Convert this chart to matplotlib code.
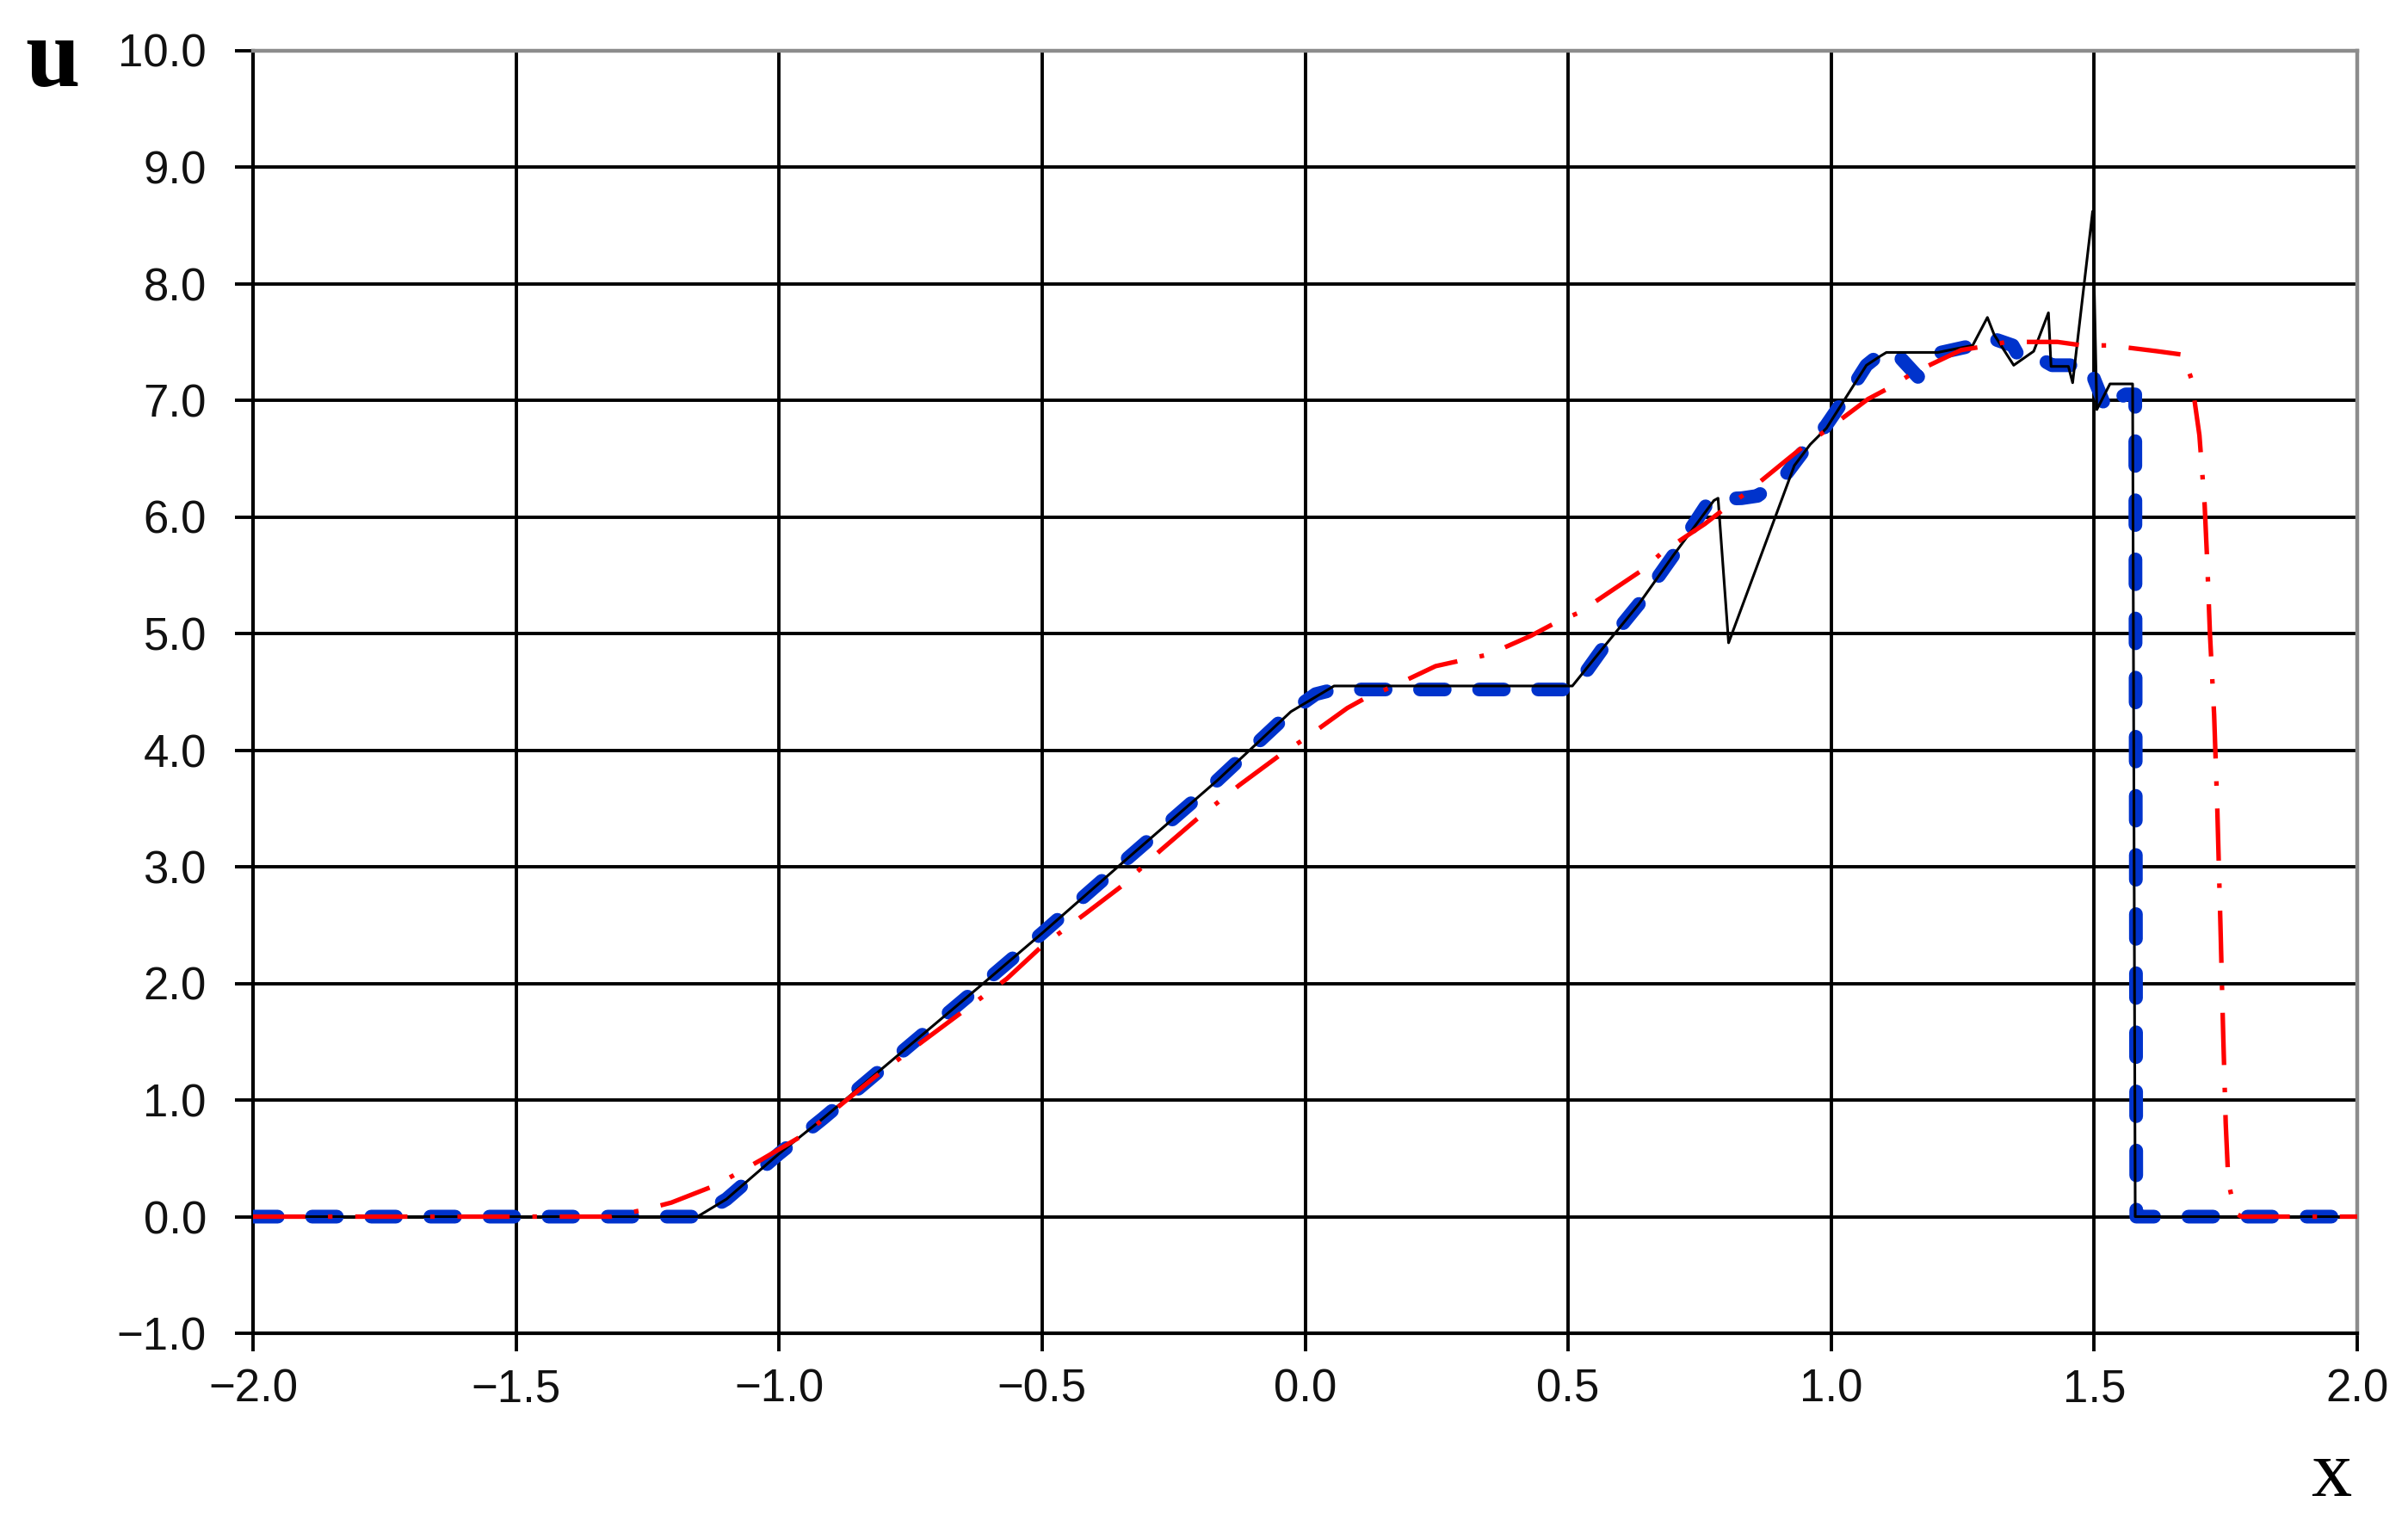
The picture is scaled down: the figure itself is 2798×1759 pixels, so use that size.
import matplotlib
matplotlib.use("Agg")
import matplotlib.pyplot as plt
import numpy as np

# ---------------- data ----------------
x_ticks = [-2.0, -1.5, -1.0, -0.5, 0.0, 0.5, 1.0, 1.5, 2.0]
y_ticks = [-1, 0, 1, 2, 3, 4, 5, 6, 7, 8, 9, 10]

# blue thick dashed curve
blue_x = [-2.0, -1.155, -1.10, -1.0, -0.917, -0.617, -0.5, -0.333, -0.167, -0.027,
          0.02, 0.055, 0.51, 0.567, 0.634, 0.70, 0.77, 0.83, 0.86, 0.91, 0.95, 0.99,
          1.043, 1.067, 1.10, 1.12, 1.165, 1.20, 1.27, 1.30, 1.345, 1.36, 1.40, 1.42,
          1.494, 1.50, 1.525, 1.54, 1.56, 1.578, 1.58, 2.0]
blue_y = [0.0, 0.0, 0.15, 0.54, 0.84, 1.98, 2.43, 3.09, 3.74, 4.33,
          4.48, 4.52, 4.52, 4.88, 5.25, 5.67, 6.15, 6.16, 6.18, 6.34, 6.58, 6.78,
          7.13, 7.30, 7.42, 7.42, 7.20, 7.40, 7.47, 7.54, 7.47, 7.35, 7.35, 7.30,
          7.30, 7.18, 6.90, 7.00, 7.05, 7.05, 0.0, 0.0]

# black thin solid curve (with oscillations)
black_x = [-2.0, -1.155, -1.10, -1.0, -0.917, -0.617, -0.5, -0.333, -0.167, -0.027,
           0.055, 0.508, 0.567, 0.634, 0.70, 0.777, 0.785, 0.805, 0.93, 0.96, 0.991,
           1.043, 1.067, 1.094, 1.105, 1.203, 1.269, 1.297, 1.31, 1.347, 1.385, 1.413,
           1.418, 1.451, 1.459, 1.497, 1.505, 1.53, 1.573, 1.578, 2.0]
black_y = [0.0, 0.0, 0.15, 0.54, 0.84, 1.98, 2.43, 3.09, 3.74, 4.33,
           4.55, 4.55, 4.88, 5.25, 5.67, 6.14, 6.16, 4.92, 6.44, 6.62, 6.76,
           7.13, 7.30, 7.38, 7.41, 7.41, 7.47, 7.71, 7.56, 7.30, 7.42, 7.75,
           7.29, 7.29, 7.15, 8.62, 6.92, 7.14, 7.14, 0.0, 0.0]

# red dash-dot curve
red_x = [-2.0, -1.32, -1.256, -1.205, -1.12, -1.08, -1.033, -0.95, -0.82, -0.567,
         -0.5, -0.417, -0.35, -0.275, -0.208, -0.125, -0.05, 0.0, 0.08, 0.12, 0.164,
         0.248, 0.298, 0.349, 0.429, 0.475, 0.521, 0.60, 0.643, 0.68, 0.76, 0.80,
         0.84, 0.916, 0.949, 0.993, 1.07, 1.116, 1.154, 1.247, 1.288, 1.334, 1.43,
         1.478, 1.53, 1.62, 1.669, 1.685, 1.70, 1.71, 1.715, 1.72, 1.728, 1.734,
         1.74, 1.745, 1.75, 1.755, 1.768, 1.78, 2.0]
red_y = [0.0, 0.0, 0.06, 0.12, 0.27, 0.37, 0.49, 0.71, 1.19, 2.04,
         2.32, 2.60, 2.83, 3.14, 3.40, 3.70, 3.95, 4.10, 4.36, 4.46, 4.54,
         4.72, 4.77, 4.82, 4.98, 5.09, 5.18, 5.42, 5.55, 5.70, 5.94, 6.08,
         6.21, 6.49, 6.61, 6.75, 7.01, 7.12, 7.23, 7.43, 7.46, 7.50, 7.50,
         7.47, 7.47, 7.42, 7.39, 7.18, 6.70, 6.10, 5.60, 5.00, 4.30, 3.50,
         2.50, 1.60, 0.80, 0.30, 0.03, 0.0, 0.0]

# ---------------- figure ----------------
W, H, DPI = 2798, 1759, 100
fig = plt.figure(figsize=(W / DPI, H / DPI), dpi=DPI)
fig.patch.set_facecolor("white")
ax = fig.add_axes([294 / W, (H - 1549) / H, (2739 - 294) / W, (1549 - 58.5) / H])

ax.set_xlim(-2.0, 2.0)
ax.set_ylim(-1.0, 10.0)

ax.plot(blue_x, blue_y, color="#0033cc", lw=11.5, linestyle=(0, (1.8, 2.5)),
        dash_capstyle="round", solid_joinstyle="round", zorder=3)
ax.plot(black_x, black_y, color="black", lw=2.2, zorder=4)
ax.plot(red_x, red_y, color="#ff0000", lw=3.8,
        linestyle=(0, (11.5, 5.0, 1.0, 5.0)), dash_capstyle="butt", zorder=5)

ax.set_xticks(x_ticks)
ax.set_yticks(y_ticks)
ax.set_xticklabels([f"{v:.1f}".replace("-", "\u2212") for v in x_ticks])
ax.set_yticklabels([f"{v:.1f}".replace("-", "\u2212") for v in y_ticks])

ax.grid(True, color="black", lw=2.8)
ax.set_axisbelow(True)

for s in ("left", "bottom"):
    ax.spines[s].set_color("black")
    ax.spines[s].set_linewidth(3.0)
for s in ("top", "right"):
    ax.spines[s].set_color("#8c8c8c")
    ax.spines[s].set_linewidth(3.2)

ax.tick_params(axis="both", direction="out", length=15, width=2.8, color="black",
               labelsize=38, labelcolor="#111111", top=False, right=False)
ax.tick_params(axis="y", pad=24)
ax.tick_params(axis="x", pad=14)
for lab in ax.get_xticklabels() + ax.get_yticklabels():
    lab.set_family(["Liberation Sans", "DejaVu Sans"])

fig.text(61 / W, 1 - 100 / H, "u", family=["Liberation Serif", "DejaVu Serif"],
         fontweight="bold", fontsize=82, ha="center", va="baseline", color="black")
fig.text(2709 / W, 1 - 1738 / H, "x", family=["Liberation Serif", "DejaVu Serif"],
         fontsize=68, ha="center", va="baseline", color="black")

fig.savefig("out.png", dpi=DPI, facecolor="white")
